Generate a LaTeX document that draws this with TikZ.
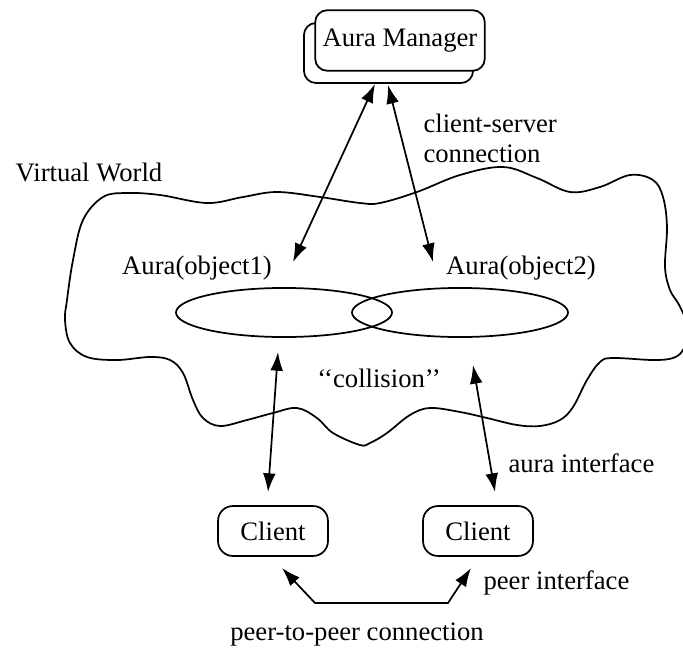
\documentclass[tikz,border=0pt]{standalone}
\usepackage{fontspec}
\setmainfont{Liberation Serif}
\usetikzlibrary{arrows.meta,shapes.geometric}
\tikzset{
	wire/.style={line width=0.65pt, {Latex[length=7pt,width=4.8pt]}-{Latex[length=7pt,width=4.8pt]}},
	mgrbox/.style={draw, line width=0.65pt, fill=white, rounded corners=4.5pt, minimum width=63.6pt, minimum height=22.7pt, inner sep=0pt},
	clientbox/.style={draw, line width=0.65pt, rounded corners=5.5pt, minimum width=41.2pt, minimum height=18.7pt, inner sep=0pt},
	aura/.style={draw, ellipse, line width=0.65pt, minimum width=81pt, minimum height=18.4pt, inner sep=0pt},
	lbl/.style={inner sep=0pt, font=\fontsize{10}{11.25}\selectfont}
}
\begin{document}
\begin{tikzpicture}[x=0.375pt, y=-0.375pt]
		%%%%% START %%%%%
		\useasboundingbox (0, 0) rectangle (683, 650);
		
		% the virtual world
		\draw[line width=0.65pt] plot[smooth cycle, tension=0.6] coordinates {
			(67, 300) (73, 260) (83, 220) (103, 197) (127, 193) (160, 195) (207, 203)
			(243, 197) (277, 192) (320, 197) (360, 203) (380, 203) (417, 192) (460, 175)
			(503, 167) (537, 178) (570, 192) (600, 187) (630, 175) (653, 180) (663, 197)
			(667, 227) (665, 267) (670, 290) (678, 303) (685, 318) (688, 334) (683, 350)
			(673, 358) (653, 360) (613, 358) (600, 362) (587, 380) (573, 407) (560, 420)
			(540, 426) (517, 425) (487, 418) (460, 412) (430, 408) (410, 415) (387, 433)
			(370, 443) (360, 445) (333, 433) (317, 418) (297, 408) (273, 413) (247, 420)
			(220, 426) (203, 418) (193, 400) (183, 373) (170, 360) (150, 357) (117, 360)
			(87, 357) (70, 343) (65, 320)};
		\node[lbl] (world) at (89, 172) {Virtual World};
		
		% aura manager
		\node[mgrbox, minimum width=63.4pt, minimum height=22.5pt] (mgrback) at (388.5, 53) {};
		\node[mgrbox] (mgr) at (400, 40.5) {Aura Manager};
		
		% auras
		\node[aura] (aura1) at (284, 312.5) {};
		\node[aura] (aura2) at (460, 312.5) {};
		\node[lbl] (obj1) at (197, 268) {Aura(object1)};
		\node[lbl] (obj2) at (521, 268) {Aura(object2)};
		\node[lbl] (coll) at (379, 378) {{`}{`}collision{'}{'}};
		
		% clients
		\node[clientbox] (client1) at (273, 531) {Client};
		\node[clientbox] (client2) at (478, 531) {Client};
		
		% arrow ends
		\coordinate (cs1) at (375, 84);
		\coordinate (cs2) at (388, 85);
		\coordinate (au1) at (293, 262);
		\coordinate (au2) at (433, 262);
		\coordinate (ai1) at (278, 352);
		\coordinate (ai2) at (473, 365);
		\coordinate (cl1) at (268, 492);
		\coordinate (cl2) at (495, 492);
		\coordinate (pp1) at (282, 568);
		\coordinate (pp2) at (471, 568);
		
		\draw[wire] (cs1) -- (au1);
		\draw[wire] (cs2) -- (au2);
		\draw[wire] (ai1) -- (cl1);
		\draw[wire] (ai2) -- (cl2);
		\draw[wire] (pp1) -- (315, 603) -- (448, 603) -- (pp2);
		
		% labels
		\node[lbl, anchor=west, align=left] (cslbl) at (423, 138) {client-server\\connection};
		\node[lbl, anchor=west] (ailbl) at (508, 463) {aura interface};
		\node[lbl, anchor=west] (pilbl) at (483, 583) {peer interface};
		\node[lbl] (pplbl) at (357, 635) {peer-to-peer connection};
		%%%%% END %%%%%
\end{tikzpicture}
\end{document}
